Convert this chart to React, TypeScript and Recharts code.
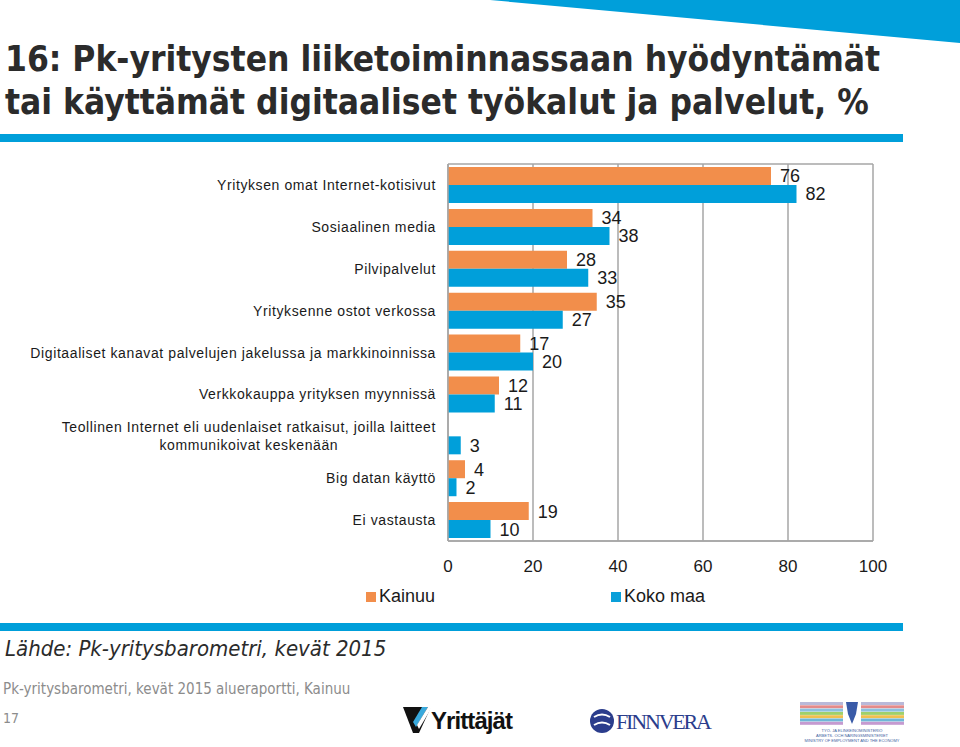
import React from 'react'
import { BarChart, Bar, XAxis, YAxis, CartesianGrid, LabelList, Legend } from 'recharts'

const categories = [
  'Yrityksen omat Internet-kotisivut',
  'Sosiaalinen media',
  'Pilvipalvelut',
  'Yrityksenne ostot verkossa',
  'Digitaaliset kanavat palvelujen jakelussa ja markkinoinnissa',
  'Verkkokauppa yrityksen myynnissä',
  'Teollinen Internet eli uudenlaiset ratkaisut, joilla laitteet\nkommunikoivat keskenään',
  'Big datan käyttö',
  'Ei vastausta',
]
const kainuu: (number | null)[] = [76, 34, 28, 35, 17, 12, null, 4, 19]
const kokoMaa = [82, 38, 33, 27, 20, 11, 3, 2, 10]
const xTicks = [0, 20, 40, 60, 80, 100]

const ORANGE = '#F28E4B'
const BLUE = '#0A9FD9'
const BAR_BLUE = '#009FDA'
const GRID = '#A6A6A6'
const SANS = "'Liberation Sans', Arial, sans-serif"
const NARROW = "'Liberation Sans Narrow', 'DejaVu Sans Condensed', 'Liberation Sans', sans-serif"

const data = categories.map((name, i) => ({ name, kainuu: kainuu[i], koko: kokoMaa[i] }))

function CategoryTick(props: any) {
  const { x, y, payload } = props
  const lines = String(payload.value).split('\n')
  const h = 40
  return (
    <foreignObject x={0} y={y - h / 2} width={x - 4} height={h}>
      <div
        style={{
          width: '100%',
          height: h,
          display: 'flex',
          justifyContent: 'flex-end',
          alignItems: 'center',
          fontFamily: SANS,
          fontSize: 14,
          letterSpacing: 0.6,
          color: '#1a1a1a',
          lineHeight: '18px',
        }}
      >
        <span style={{ textAlign: 'center', whiteSpace: 'pre' }}>{lines.join('\n')}</span>
      </div>
    </foreignObject>
  )
}

function LegendContent() {
  const items = [
    { label: 'Kainuu', color: ORANGE },
    { label: 'Koko maa', color: BLUE },
  ]
  return (
    <div style={{ display: 'flex', fontFamily: SANS, fontSize: 18, color: '#1a1a1a' }}>
      {items.map((it) => (
        <div key={it.label} style={{ width: 245, display: 'flex', alignItems: 'center' }}>
          <span style={{ width: 10, height: 10, background: it.color, marginRight: 3 }} />
          {it.label}
        </div>
      ))}
    </div>
  )
}

export default function App() {
  return (
    <div
      style={{
        position: 'absolute',
        left: 0,
        top: 0,
        width: 960,
        height: 747,
        background: '#fff',
        overflow: 'hidden',
        fontFamily: SANS,
      }}
    >
      <svg width={960} height={747} style={{ position: 'absolute', left: 0, top: 0 }}>
        <polygon points="490,0 960,0 960,43" fill={BAR_BLUE} />
        <rect x={0} y={134} width={903} height={8} fill={BAR_BLUE} />
        <rect x={0} y={623} width={903} height={8} fill={BAR_BLUE} />
      </svg>

      <div
        style={{
          position: 'absolute',
          left: 5,
          top: 38,
          fontFamily: NARROW,
          fontWeight: 'bold',
          fontSize: 35,
          lineHeight: '43px',
          color: '#2b2b2b',
          whiteSpace: 'nowrap',
        }}
      >
        16: Pk-yritysten liiketoiminnassaan hyödyntämät
        <br />
        tai käyttämät digitaaliset työkalut ja palvelut, %
      </div>

      <div style={{ position: 'absolute', left: 0, top: 0 }}>
        <BarChart
          width={960}
          height={600}
          layout="vertical"
          data={data}
          margin={{ top: 164, right: 87, bottom: 19, left: 0 }}
          barGap={0}
          barSize={18}
        >
          <CartesianGrid
            stroke={GRID}
            strokeWidth={1.5}
            horizontalCoordinatesGenerator={({ offset }: any) => [offset.top, offset.top + offset.height]}
          />
          <XAxis
            type="number"
            domain={[0, 100]}
            ticks={xTicks}
            axisLine={{ stroke: GRID, strokeWidth: 1.5 }}
            tickLine={false}
            tickSize={0}
            tickMargin={19}
            height={40}
            tick={{ fontFamily: SANS, fontSize: 17, fill: '#1a1a1a' }}
          />
          <YAxis
            type="category"
            dataKey="name"
            width={448}
            axisLine={{ stroke: GRID, strokeWidth: 1.5 }}
            tickLine={false}
            tick={<CategoryTick />}
            interval={0}
          />
          <Legend
            layout="horizontal"
            verticalAlign="middle"
            align="center"
            content={<LegendContent />}
            wrapperStyle={{ position: 'absolute', left: 366, top: 586, width: 500, bottom: 'auto' }}
          />
          <Bar dataKey="kainuu" name="Kainuu" fill={ORANGE} isAnimationActive={false}>
            <LabelList
              dataKey="kainuu"
              position="right"
              offset={9}
              style={{ fontFamily: SANS, fontSize: 18, fill: '#1a1a1a' }}
              formatter={(v: any) => (v == null ? '' : v)}
            />
          </Bar>
          <Bar dataKey="koko" name="Koko maa" fill={BAR_BLUE} isAnimationActive={false}>
            <LabelList
              dataKey="koko"
              position="right"
              offset={9}
              style={{ fontFamily: SANS, fontSize: 18, fill: '#1a1a1a' }}
            />
          </Bar>
        </BarChart>
      </div>

      <div
        style={{
          position: 'absolute',
          left: 5,
          top: 636,
          fontFamily: NARROW,
          fontStyle: 'italic',
          fontSize: 22,
          color: '#2b2b2b',
          whiteSpace: 'nowrap',
        }}
      >
        Lähde: Pk-yritysbarometri, kevät 2015
      </div>
      <div
        style={{
          position: 'absolute',
          left: 3,
          top: 680,
          fontFamily: NARROW,
          fontSize: 15,
          color: '#8c8c8c',
          whiteSpace: 'nowrap',
        }}
      >
        Pk-yritysbarometri, kevät 2015 alueraportti, Kainuu
      </div>
      <div style={{ position: 'absolute', left: 3, top: 710, fontFamily: NARROW, fontSize: 14, color: '#8c8c8c' }}>
        17
      </div>

      {/* logos */}
      <svg width={960} height={747} style={{ position: 'absolute', left: 0, top: 0 }}>
        <polygon points="403,707 431,707 419,733 413,733" fill="#111" />
        <polygon points="422,707 428,707 416,727 413,722" fill="#39A9DC" />
        <polygon points="428,707 432,707 419,729 417,725" fill="#fff" />
        <text x={431} y={729} fontFamily={SANS} fontWeight="bold" fontSize={24} fill="#111" textLength={82}>
          Yrittäjät
        </text>
        <circle cx={602} cy={721} r={12} fill="#2B3D8C" />
        <path d="M594 717 Q602 712 610 717 M594 725 Q602 720 610 725" stroke="#fff" strokeWidth={2} fill="none" />
        <text x={616} y={729} fontFamily="'Liberation Serif', serif" fontSize={22} fill="#2B3D8C" textLength={96}>
          FINNVERA
        </text>
        {['#B9B9D9', '#E48A8A', '#8CC0E0', '#A0D06A', '#F0C050', '#6FB7D8', '#C59AD0'].map((c, i) => (
          <rect key={c} x={800} y={702 + i * 3.3} width={104} height={3} fill={c} />
        ))}
        <rect x={843} y={700} width={18} height={26} fill="#fff" />
        <path d="M846 702 L858 702 L856 714 L852 724 L848 714 Z" fill="#3A5BA8" />
        <text x={852} y={732} textAnchor="middle" fontFamily={SANS} fontSize={4} fill="#4060A0">
          TYÖ- JA ELINKEINOMINISTERIÖ
        </text>
        <text x={852} y={737} textAnchor="middle" fontFamily={SANS} fontSize={4} fill="#4060A0">
          ARBETS- OCH NÄRINGSMINISTERIET
        </text>
        <text x={852} y={742} textAnchor="middle" fontFamily={SANS} fontSize={4} fill="#4060A0">
          MINISTRY OF EMPLOYMENT AND THE ECONOMY
        </text>
      </svg>
    </div>
  )
}
